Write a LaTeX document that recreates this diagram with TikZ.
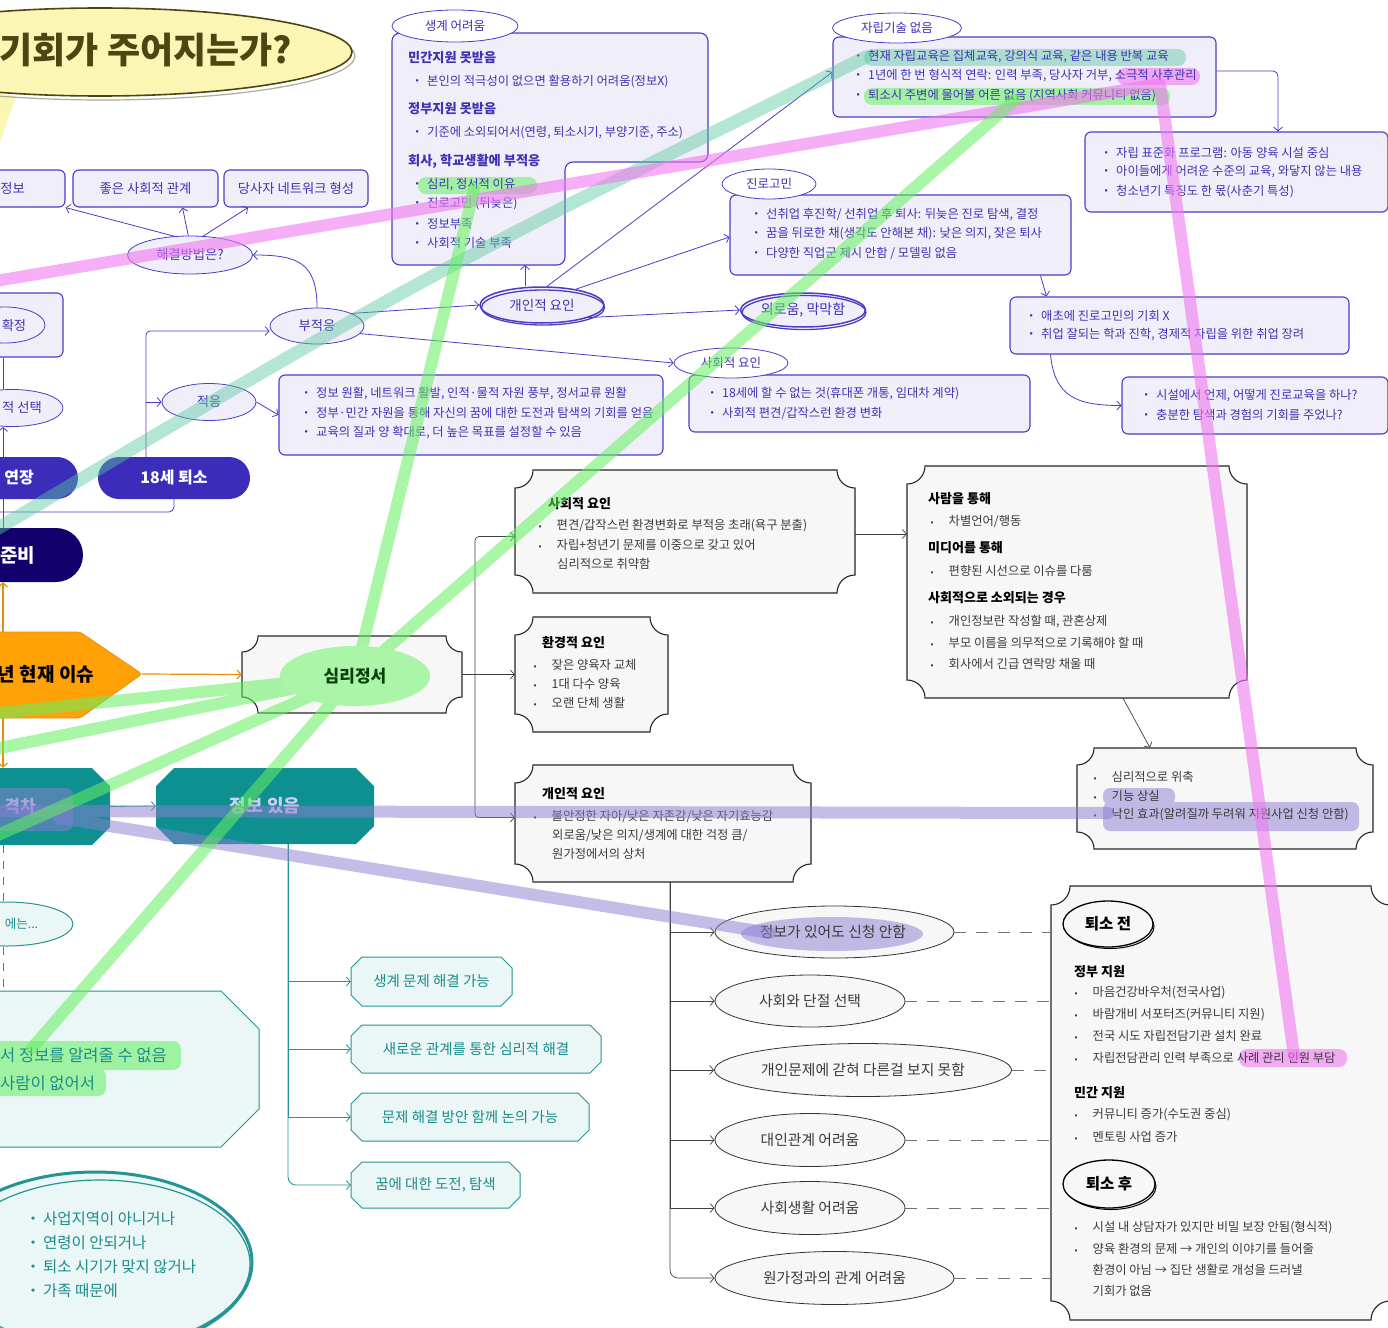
\documentclass[tikz,border=0pt]{standalone}
\usepackage{fontspec}
\setmainfont{Noto Sans CJK KR}
\usetikzlibrary{shapes.geometric,shapes.misc,arrows.meta}

\definecolor{inkblue}{HTML}{3F32B4}
\definecolor{boxline}{HTML}{4B3CC6}
\definecolor{boxfill}{HTML}{F0EFF9}
\definecolor{pillblue}{HTML}{3B2DBA}
\definecolor{pilldark}{HTML}{12006C}
\definecolor{orangefill}{HTML}{FFA107}
\definecolor{orangeline}{HTML}{E8900A}
\definecolor{tealdark}{HTML}{0F9090}
\definecolor{tealline}{HTML}{259494}
\definecolor{tealfill}{HTML}{EBF6F6}
\definecolor{tealtext}{HTML}{1C8C8C}
\definecolor{tealpale}{HTML}{D2CEF0}
\definecolor{plaquefill}{HTML}{F7F7F7}
\definecolor{graytext}{HTML}{3A3A3A}
\definecolor{bubblefill}{HTML}{FCF6B4}
\definecolor{bubbleink}{HTML}{4D4613}
\definecolor{mindgreen}{HTML}{ABF5A8}
\definecolor{minddark}{HTML}{0B3F0E}
\definecolor{pinkpen}{RGB}{240,120,240}
\definecolor{greenpen}{RGB}{100,240,95}
\definecolor{tealpen}{RGB}{90,200,160}
\definecolor{purplepen}{RGB}{140,125,210}

\newcommand{\fsz}[1]{\fontsize{#1}{#1}\selectfont}
\newcommand{\kdot}{\makebox[20pt]{・}}
\newcommand{\bdot}{\makebox[33pt]{\fsz{9}•}}
\newcommand{\plaque}[5]{(#1+#5,#2) -- (#3-#5,#2) arc[start angle=180,end angle=90,radius=#5] -- (#3,#4-#5) arc[start angle=270,end angle=180,radius=#5] -- (#1+#5,#4) arc[start angle=0,end angle=-90,radius=#5] -- (#1,#2+#5) arc[start angle=90,end angle=0,radius=#5] -- cycle}
\newcommand{\octagon}[5]{(#1+#5,#2) -- (#3-#5,#2) -- (#3,#2+#5) -- (#3,#4-#5) -- (#3-#5,#4) -- (#1+#5,#4) -- (#1,#4-#5) -- (#1,#2+#5) -- cycle}

\tikzset{
  pbox/.style={rectangle, draw=boxline, fill=boxfill, line width=1.1, rounded corners=6, inner sep=0, text=inkblue, font=\fsz{13.3}},
  tagoval/.style={ellipse, draw=boxline, fill=white, line width=0.8, inner sep=0, text=inkblue, font=\fsz{12.5}},
  softoval/.style={ellipse, draw=boxline, fill=boxfill, line width=0.8, inner sep=0, text=inkblue, font=\fsz{13.3}},
  listentry/.style={anchor=west, inner sep=0, text=inkblue, font=\fsz{12.3}},
  listhead/.style={anchor=west, inner sep=0, text=inkblue, font=\fsz{13.2}\bfseries},
  pill/.style={rounded rectangle, fill=pillblue, inner sep=0, text=white, font=\fsz{16}\bfseries},
  wire/.style={draw=boxline, line width=0.8},
  arr/.style={wire, ->},
  plaqueline/.style={draw=black!85, fill=plaquefill, line width=1.1},
  pentry/.style={anchor=west, inner sep=0, text=graytext, font=\fsz{12.3}},
  phead/.style={anchor=west, inner sep=0, text=black, font=\fsz{13}\bfseries},
  darkwire/.style={draw=black!75, line width=0.7},
  darkarr/.style={darkwire, ->},
  grayoval/.style={ellipse, draw=black!80, fill=plaquefill, line width=0.8, inner sep=0, text=graytext, font=\fsz{14.8}},
  blackoval/.style={ellipse, draw=black, line width=1.3, fill=plaquefill, inner sep=0, font=\fsz{15.5}\bfseries},
  dashline/.style={draw=black!55, line width=1, dash pattern=on 12pt off 10pt},
  tealblock/.style={fill=tealdark},
  tealsoft/.style={draw=tealline, fill=tealfill, line width=1},
  tealtag/.style={inner sep=0, text=tealtext, font=\fsz{14.5}},
  tealoval/.style={ellipse, draw=tealline, fill=tealfill, line width=1, inner sep=0, text=tealtext, font=\fsz{12.5}},
  tealentry/.style={anchor=west, inner sep=0, text=tealtext, font=\fsz{15.5}},
  tealwire/.style={draw=tealline, line width=0.8},
  tealarr/.style={tealwire, ->},
  tealdash/.style={tealwire, dash pattern=on 8pt off 8pt},
  orangearr/.style={draw=orangeline, line width=1.2, ->},
  pinkband/.style={draw=pinkpen, draw opacity=0.6, line width=12, line cap=round, line join=round},
  greenband/.style={draw=greenpen, draw opacity=0.55, line width=12, line cap=round},
  tealband/.style={draw=tealpen, draw opacity=0.45, line width=13, line cap=round},
  purpleband/.style={draw=purplepen, draw opacity=0.5, line width=12, line cap=round},
  pinkmark/.style={fill=pinkpen, fill opacity=0.6, rounded corners=8},
  greenmark/.style={fill=greenpen, fill opacity=0.55, rounded corners=8},
  tealmark/.style={fill=tealpen, fill opacity=0.45, rounded corners=8},
  purplemark/.style={fill=purplepen, fill opacity=0.5, rounded corners=7},
}

\begin{document}
\begin{tikzpicture}[x=1pt, y=-1pt, >={Straight Barb[length=4pt,width=9pt]}]
\useasboundingbox (0,0) rectangle (1388,1327);
\clip (0,0) rectangle (1388,1327);
\fill[white] (0,0) rectangle (1388,1327);

% title bubble
\fill[bubblefill] (0,94) -- (16,96) -- (0,142) -- cycle;
\draw[bubbleink!45, line width=1.2] (103,56) ellipse [x radius=252, y radius=44];
\node[ellipse, fill=bubblefill, draw=bubbleink, line width=1.6, minimum width=504, minimum height=88] (bubble) at (100,52) {};
\node[inner sep=0, text=bubbleink, font=\fsz{36}\bfseries] (title) at (146,50) {기회가 주어지는가?};

% how to solve
\node[pbox, minimum width=105, minimum height=37] (infobox) at (12.5,188.5) {정보};
\node[pbox, minimum width=145, minimum height=37] (goodbox) at (145.5,188.5) {좋은 사회적 관계};
\node[pbox, minimum width=144, minimum height=37] (netbox) at (296,188.5) {당사자 네트워크 형성};
\node[softoval, minimum width=125, minimum height=38] (solve) at (190,255) {해결방법은?};

% living
\filldraw[draw=boxline, fill=boxfill, line width=1.1, rounded corners=8] (392,33) -- (708,33) -- (708,162) -- (565,162) -- (565,265) -- (392,265) -- cycle;
\coordinate (livebottom) at (525,265);
\node[tagoval, minimum width=126, minimum height=32] (livetag) at (455,26) {생계 어려움};
\node[listhead] (live1) at (408,58) {민간지원 못받음};
\node[listentry] (live2) at (407,82) {\kdot 본인의 적극성이 없으면 활용하기 어려움(정보X)};
\node[listhead] (live3) at (408,109) {정부지원 못받음};
\node[listentry] (live4) at (407,133) {\kdot 기준에 소외되어서(연령, 퇴소시기, 부양기준, 주소)};
\node[listhead] (live5) at (408,161) {회사, 학교생활에 부적응};
\fill[greenmark] (418,177) rectangle (537,194);
\node[listentry] (live6) at (407,185) {\kdot 심리, 정서적 이유};
\node[listentry] (live7) at (407,204) {\kdot 진로고민 (뒤늦은)};
\node[listentry] (live8) at (407,224) {\kdot 정보부족};
\node[listentry] (live9) at (407,243) {\kdot 사회적 기술 부족};

% skills
\node[pbox, minimum width=383, minimum height=80] (skillbox) at (1024.5,77) {};
\node[tagoval, minimum width=129, minimum height=30] (skilltag) at (897,28) {자립기술 없음};
\fill[tealmark] (864,49) rectangle (1186,66);
\fill[pinkmark] (1117,68) rectangle (1200,85);
\fill[greenmark] (864,88) rectangle (1170,105);
\node[listentry] (skill1) at (848,57) {\kdot 현재 자립교육은 집체교육, 강의식 교육, 같은 내용 반복 교육};
\node[listentry] (skill2) at (848,76) {\kdot 1년에 한 번 형식적 연락: 인력 부족, 당사자 거부, 소극적 사후관리};
\node[listentry] (skill3) at (848,96) {\kdot 퇴소시 주변에 물어볼 어른 없음 (지역사회 커뮤니티 없음)};
\node[pbox, minimum width=303, minimum height=80] (stdbox) at (1236.5,172) {};
\node[listentry] (std1) at (1096,153) {\kdot 자립 표준화 프로그램: 아동 양육 시설 중심};
\node[listentry] (std2) at (1096,172) {\kdot 아이들에게 어려운 수준의 교육, 와닿지 않는 내용};
\node[listentry] (std3) at (1096,192) {\kdot 청소년기 특징도 한 몫(사춘기 특성)};

% career
\node[pbox, minimum width=341, minimum height=80] (careerbox) at (900.5,235) {};
\node[tagoval, minimum width=94, minimum height=30] (careertag) at (769,184) {진로고민};
\node[listentry] (career1) at (746,215) {\kdot 선취업 후진학/ 선취업 후 퇴사: 뒤늦은 진로 탐색, 결정};
\node[listentry] (career2) at (746,234) {\kdot 꿈을 뒤로한 채(생각도 안해본 채): 낮은 의지, 잦은 퇴사};
\node[listentry] (career3) at (746,253) {\kdot 다양한 직업군 제시 안함 / 모델링 없음};
\node[pbox, minimum width=339, minimum height=57] (earlybox) at (1179.5,325.5) {};
\node[listentry] (early1) at (1021,316) {\kdot 애초에 진로고민의 기회 X};
\node[listentry] (early2) at (1021,335) {\kdot 취업 잘되는 학과 진학, 경제적 자립을 위한 취업 장려};
\node[pbox, minimum width=266, minimum height=57] (questbox) at (1255,405.5) {};
\node[listentry] (quest1) at (1136,396) {\kdot 시설에서 언제, 어떻게 진로교육을 하나?};
\node[listentry] (quest2) at (1136,415) {\kdot 충분한 탐색과 경험의 기회를 주었나?};

% factors
\node[softoval, line width=1.5, minimum width=124, minimum height=36, font=\fsz{13.5}] (personal) at (542,305) {개인적 요인};
\draw[boxline, line width=1.3] (543,307.5) ellipse [x radius=61.5, y radius=17.5];
\node[softoval, line width=1.5, minimum width=125, minimum height=34, font=\fsz{14}] (lonely) at (803,310) {외로움, 막막함};
\draw[boxline, line width=1.3] (804,312.5) ellipse [x radius=62, y radius=17];
\node[softoval, minimum width=94, minimum height=36] (misfit) at (317,326) {부적응};
\node[softoval, minimum width=94, minimum height=37] (adapt) at (209,402) {적응};
\node[pbox, minimum width=341, minimum height=57] (socialbox) at (859.5,403.5) {};
\node[tagoval, minimum width=114, minimum height=30] (socialtag) at (731,363) {사회적 요인};
\node[listentry] (social1) at (702,394) {\kdot 18세에 할 수 없는 것(휴대폰 개통, 임대차 계약)};
\node[listentry] (social2) at (702,413) {\kdot 사회적 편견/갑작스런 환경 변화};
\node[pbox, minimum width=384, minimum height=80] (adaptbox) at (471,415) {};
\node[listentry] (adapt1) at (296,394) {\kdot 정보 원활, 네트워크 활발, 인적·물적 자원 풍부, 정서교류 원활};
\node[listentry] (adapt2) at (296,413) {\kdot 정부·민간 자원을 통해 자신의 꿈에 대한 도전과 탐색의 기회를 얻음};
\node[listentry] (adapt3) at (296,433) {\kdot 교육의 질과 양 확대로, 더 높은 목표를 설정할 수 있음};

% left column
\coordinate (leftrail) at (3,0);
\node[pbox, minimum width=103, minimum height=64] (fixbox) at (11.5,325) {};
\node[softoval, minimum width=80, minimum height=36] (fixoval) at (5,325) {\hspace*{18pt}확정};
\node[softoval, minimum width=102, minimum height=37] (choice) at (12,408) {\hspace*{20pt}적 선택};
\node[pill, minimum width=118, minimum height=42] (extend) at (19,478) {연장};
\node[pill, minimum width=152, minimum height=42] (out18) at (174,478) {18세 퇴소};
\node[pill, fill=pilldark, minimum width=130, minimum height=54, font=\fsz{19}\bfseries] (prep) at (18,555) {준비};

\draw[arr] (solve.130) -- (infobox.south east);
\draw[arr] (solve.95) -- ([xshift=37]goodbox.south);
\draw[arr] (solve.55) -- ([xshift=-48]netbox.south);
\draw[arr] (misfit.north) .. controls +(0,-45) and +(45,0) .. (solve.east);
\draw[arr] (misfit.20) -- (personal.west);
\draw[arr] (misfit.-10) -- (socialtag.west);
\draw[arr] (personal.75) -- ([yshift=5]skillbox.west);
\draw[arr] (personal.25) -- ([yshift=-2]careerbox.west);
\draw[arr] (personal.-15) -- (lonely.west);
\draw[arr] (livebottom |- personal.north) -- (livebottom);
\draw[arr, rounded corners=5] ([yshift=6]skillbox.east) -| ([xshift=41.5]stdbox.north);
\draw[arr] ([xshift=140]careerbox.south) -- ([xshift=-133]earlybox.north);
\draw[arr] ([xshift=-129]earlybox.south) .. controls +(4,42) and +(-45,0) .. (questbox.west);
\draw[wire] (fixbox.south -| leftrail) -- (choice.north -| leftrail);
\draw[arr] (extend.north -| leftrail) -- (choice.south -| leftrail);
\draw[wire] (extend.south -| leftrail) -- (prep.north -| leftrail);
\coordinate (fork) at ([xshift=-28]out18.north);
\draw[arr, rounded corners=4] (fork) |- ([yshift=-5]misfit.west);
\draw[arr] (fork |- adapt.west) -- (adapt.west);
\draw[arr] (adapt.east) -- (adaptbox.west);
\coordinate (leftout) at (-10,512);
\draw[wire, rounded corners=5] (out18.south) |- (leftout);

% current issue
\filldraw[fill=orangefill, draw=orangeline, line width=0.8, rounded corners=3] (-20,632) -- (80,632) -- (142,674) -- (80,718) -- (-20,718) -- cycle;
\node[inner sep=0, font=\fsz{19}\bfseries] (issue) at (46,674) {년 현재 이슈};
\coordinate (issuetop) at (3,632);
\coordinate (issuebottom) at (3,718);
\coordinate (issuetip) at (142,674);

% plaques
\filldraw[plaqueline] \plaque{242}{636}{462}{713}{16};
\node[minimum width=220, minimum height=77] (mind) at (352,674.5) {};
\filldraw[plaqueline] \plaque{515}{470}{855}{593}{18};
\node[minimum width=340, minimum height=123] (socialp) at (685,531.5) {};
\node[phead] (sp1) at (548,504) {사회적 요인};
\node[pentry] (sp2) at (523.5,526) {\bdot 편견/갑작스런 환경변화로 부적응 초래(욕구 분출)};
\node[pentry] (sp3) at (523.5,545) {\bdot 자립+청년기 문제를 이중으로 갖고 있어};
\node[pentry] (sp4) at (557,564) {심리적으로 취약함};
\filldraw[plaqueline] \plaque{515}{617}{668}{732}{18};
\node[minimum width=153, minimum height=115] (envp) at (591.5,674.5) {};
\node[phead] (ev1) at (542,643) {환경적 요인};
\node[pentry] (ev2) at (518.5,665) {\bdot 잦은 양육자 교체};
\node[pentry] (ev3) at (518.5,684) {\bdot 1대 다수 양육};
\node[pentry] (ev4) at (518.5,703) {\bdot 오랜 단체 생활};
\filldraw[plaqueline] \plaque{515}{765}{811}{882}{18};
\node[minimum width=296, minimum height=117] (personp) at (663,823.5) {};
\node[phead] (pe1) at (542,794) {개인적 요인};
\node[pentry] (pe2) at (518.5,816) {\bdot 불안정한 자아/낮은 자존감/낮은 자기효능감};
\node[pentry] (pe3) at (552,835) {외로움/낮은 의지/생계에 대한 걱정 큼/};
\node[pentry] (pe4) at (552,854) {원가정에서의 상처};
\filldraw[plaqueline] \plaque{907}{466}{1247}{698}{18};
\node[minimum width=340, minimum height=232] (peoplep) at (1077,582) {};
\node[phead] (pp1) at (928,499) {사람을 통해};
\node[pentry] (pp2) at (915.5,522) {\bdot 차별언어/행동};
\node[phead] (pp3) at (928,548) {미디어를 통해};
\node[pentry] (pp4) at (915.5,571) {\bdot 편향된 시선으로 이슈를 다룸};
\node[phead] (pp5) at (928,598) {사회적으로 소외되는 경우};
\node[pentry] (pp6) at (915.5,622) {\bdot 개인정보란 작성할 때, 관혼상제};
\node[pentry] (pp7) at (915.5,643) {\bdot 부모 이름을 의무적으로 기록해야 할 때};
\node[pentry] (pp8) at (915.5,664) {\bdot 회사에서 긴급 연락망 채울 때};
\filldraw[plaqueline] \plaque{1077}{748}{1373}{849}{17};
\node[minimum width=296, minimum height=101] (shrinkp) at (1225,798.5) {};
\fill[purplemark] (1103,788) rectangle (1175,805) (1103,802) rectangle (1359,831);
\node[pentry] (sh1) at (1078.5,777) {\bdot 심리적으로 위축};
\node[pentry] (sh2) at (1078.5,796) {\bdot 기능 상실};
\node[pentry] (sh3) at (1078.5,815) {\bdot 낙인 효과(알려질까 두려워 지원사업 신청 안함)};

\draw[orangearr] (issuetop) -- (prep.south -| leftrail);
\draw[orangearr] (issuetip) -- (mind.west);
\coordinate (branch) at (475,674.5);
\draw[darkwire] (mind.east) -- (branch);
\draw[darkarr, rounded corners=4] (branch) |- ([yshift=-5]socialp.west);
\draw[darkarr] (branch) -- (envp.west);
\draw[darkarr, rounded corners=4] (branch) |- ([yshift=6]personp.west);
\coordinate (spout) at ([yshift=-2.5]socialp.east);
\draw[darkarr] (spout) -- (spout -| peoplep.west);
\draw[darkarr] ([xshift=46]peoplep.south) -- ([xshift=-75]shrinkp.north);

% leaving the facility
\filldraw[plaqueline] \plaque{1051}{886}{1390}{1320}{19};
\node[minimum width=339, minimum height=434] (leavep) at (1220.5,1103) {};
\draw[line width=1] (1110,926.5) ellipse [x radius=44, y radius=22];
\node[blackoval, minimum width=90, minimum height=46] (before) at (1108,924) {퇴소 전};
\node[phead] (lv1) at (1074,972) {정부 지원};
\node[pentry] (lv2) at (1059.5,993) {\bdot 마음건강바우처(전국사업)};
\node[pentry] (lv3) at (1059.5,1015) {\bdot 바람개비 서포터즈(커뮤니티 지원)};
\node[pentry] (lv4) at (1059.5,1036) {\bdot 전국 시도 자립전담기관 설치 완료};
\fill[pinkmark] (1239,1049) rectangle (1347,1067);
\node[pentry] (lv5) at (1059.5,1058) {\bdot 자립전담관리 인력 부족으로 사례 관리 인원 부담};
\node[phead] (lv6) at (1074,1093) {민간 지원};
\node[pentry] (lv7) at (1059.5,1115) {\bdot 커뮤니티 증가(수도권 중심)};
\node[pentry] (lv8) at (1059.5,1137) {\bdot 멘토링 사업 증가};
\draw[line width=1] (1111,1186.5) ellipse [x radius=45, y radius=23];
\node[blackoval, minimum width=92, minimum height=48] (after) at (1109,1184) {퇴소 후};
\node[pentry] (lv9) at (1059.5,1228) {\bdot 시설 내 상담자가 있지만 비밀 보장 안됨(형식적)};
\node[pentry] (lv10) at (1059.5,1249) {\bdot 양육 환경의 문제 → 개인의 이야기를 들어줄};
\node[pentry] (lv11) at (1092.5,1270) {환경이 아님 → 집단 생활로 개성을 드러낼};
\node[pentry] (lv12) at (1092.5,1291) {기회가 없음};

% consequences
\node[grayoval, minimum width=239, minimum height=52] (infono) at (834.5,932) {};
\fill[purplemark] (832,934) ellipse [x radius=91, y radius=17];
\node[inner sep=0, text=graytext, font=\fsz{14.8}] (infotext) at (833,932) {정보가 있어도 신청 안함};
\node[grayoval, minimum width=190, minimum height=52] (cut) at (810,1001) {사회와 단절 선택};
\node[grayoval, minimum width=297, minimum height=53] (trapped) at (863,1070) {개인문제에 갇혀 다른걸 보지 못함};
\node[grayoval, minimum width=190, minimum height=53] (relation) at (810,1140) {대인관계 어려움};
\node[grayoval, minimum width=190, minimum height=53] (sociallife) at (810,1208) {사회생활 어려움};
\node[grayoval, minimum width=239, minimum height=53] (family) at (834.5,1278) {원가정과의 관계 어려움};
\coordinate (trunk) at ([xshift=7]personp.south);
\draw[darkarr] (trunk) |- (infono.west);
\draw[darkarr] (trunk) |- (cut.west);
\draw[darkarr] (trunk) |- (trapped.west);
\draw[darkarr] (trunk) |- (relation.west);
\draw[darkarr] (trunk) |- (sociallife.west);
\draw[darkarr, rounded corners=8] (trunk) |- (family.west);
\draw[dashline] (infono.east) -- (infono.east -| leavep.west);
\draw[dashline] (cut.east) -- (cut.east -| leavep.west);
\draw[dashline] (trapped.east) -- (trapped.east -| leavep.west);
\draw[dashline] (relation.east) -- (relation.east -| leavep.west);
\draw[dashline] (sociallife.east) -- (sociallife.east -| leavep.west);
\draw[dashline] (family.east) -- (family.east -| leavep.west);

% information gap
\fill[tealblock] \octagon{-70}{768}{110}{845}{18};
\node[minimum width=180, minimum height=77, inner sep=0, text=tealpale, font=\fsz{17}\bfseries] (gap) at (20,806.5) {격차};
\fill[tealblock] \octagon{156}{768}{374}{844}{18};
\node[minimum width=218, minimum height=76, inner sep=0, text=tealpale, font=\fsz{18}\bfseries] (hasinfo) at (265,806) {정보 있음};
\fill[purplemark] (-20,788) rectangle (73,831);
\draw[orangearr] (issuebottom) -- (gap.north -| leftrail);
\draw[tealarr] (gap.east) -- (hasinfo.west);
\node[tealoval, minimum width=133, minimum height=44] (then) at (6.5,924) {\hspace*{30pt}에는...};
\filldraw[tealsoft] \octagon{-40}{991}{259}{1147}{38};
\node[minimum width=299, minimum height=156] (nobox) at (109.5,1069) {};
\fill[greenmark] (-10,1041) rectangle (181,1070) (-10,1068) rectangle (106,1096);
\node[tealentry, font=\fsz{16.5}] (no1) at (0,1055) {서 정보를 알려줄 수 없음};
\node[tealentry, font=\fsz{16.5}] (no2) at (0,1083) {사람이 없어서};
\draw[tealdash] (gap.south -| leftrail) -- (then.north -| leftrail);
\draw[tealdash] (then.south -| leftrail) -- (nobox.north -| leftrail);
\node[tealoval, line width=3, minimum width=314, minimum height=180] (whyell) at (95,1262) {};
\draw[tealline, line width=1.2] (100,1264) ellipse [x radius=150, y radius=84];
\node[tealentry] (why1) at (23,1219) {\kdot 사업지역이 아니거나};
\node[tealentry] (why2) at (23,1243) {\kdot 연령이 안되거나};
\node[tealentry] (why3) at (23,1267) {\kdot 퇴소 시기가 맞지 않거나};
\node[tealentry] (why4) at (23,1291) {\kdot 가족 때문에};
\filldraw[tealsoft] \octagon{351}{957}{512}{1006}{11};
\node[tealtag, minimum width=161, minimum height=49] (fix1) at (431.5,981.5) {생계 문제 해결 가능};
\filldraw[tealsoft] \octagon{351}{1025}{601}{1073}{11};
\node[tealtag, minimum width=250, minimum height=48] (fix2) at (476,1049) {새로운 관계를 통한 심리적 해결};
\filldraw[tealsoft] \octagon{351}{1093}{589}{1141}{11};
\node[tealtag, minimum width=238, minimum height=48] (fix3) at (470,1117) {문제 해결 방안 함께 논의 가능};
\filldraw[tealsoft] \octagon{351}{1162}{520}{1208}{11};
\node[tealtag, minimum width=169, minimum height=46] (fix4) at (435.5,1185) {꿈에 대한 도전, 탐색};
\coordinate (tealtrunk) at ([xshift=23]hasinfo.south);
\draw[tealarr] (tealtrunk) |- (fix1.west);
\draw[tealarr] (tealtrunk) |- (fix2.west);
\draw[tealarr] (tealtrunk) |- (fix3.west);
\draw[tealarr, rounded corners=8] (tealtrunk) |- (fix4.west);

% highlighter strokes
\coordinate (pinkstart) at (-10,282);
\coordinate (pinkturn) at (1160,84);
\coordinate (pinkend) at (1294,1056);
\coordinate (tealstart) at (-10,533);
\coordinate (tealend) at (866,57);
\coordinate (alonemark) at (1015,100);
\coordinate (feelmark) at (474,190);
\coordinate (nomark) at (32,1048);
\coordinate (greenw1) at (-20,715);
\coordinate (greenw2) at (-20,752);
\coordinate (greenw3) at (-20,843);
\coordinate (purplestart) at (-20,811);
\coordinate (stigmamark) at (1108,813);
\coordinate (gapmark) at (60,818);
\coordinate (infomark) at (770,933);
\coordinate (mindcore) at (355,676);
\draw[tealband] (tealstart) .. controls (430,272) .. (tealend);
\draw[purpleband] (purplestart) -- (stigmamark) (gapmark) -- (infomark);
\draw[pinkband] (pinkstart) -- (pinkturn) -- (pinkend);
\draw[greenband] (mindcore) -- (alonemark) (mindcore) -- (feelmark) (mindcore) -- (nomark) (mindcore) -- (greenw1) (mindcore) -- (greenw2) (mindcore) -- (greenw3);
\node[ellipse, fill=mindgreen, inner sep=0, minimum width=150, minimum height=60, text=minddark, font=\fsz{17}\bfseries] (mindoval) at (mindcore) {심리정서};
\end{tikzpicture}
\end{document}
